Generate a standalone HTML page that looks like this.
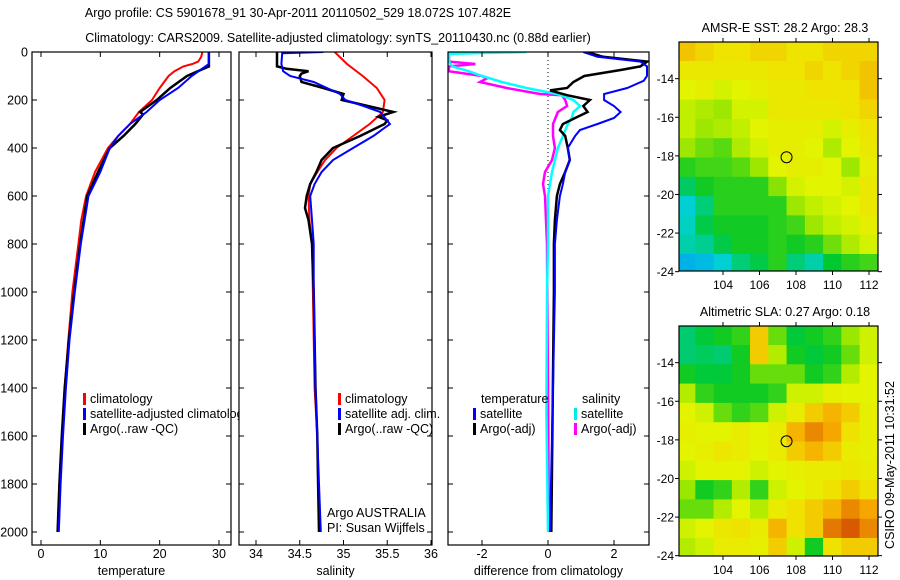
<!DOCTYPE html>
<html><head><meta charset="utf-8">
<style>
html,body{margin:0;padding:0;background:#fff;}
svg{display:block;font-family:"Liberation Sans",sans-serif;}
text{font-size:12.5px;fill:#000;}
</style></head>
<body>
<svg id="fig" width="900" height="580" viewBox="0 0 900 580" xmlns="http://www.w3.org/2000/svg">
<rect width="900" height="580" fill="#fff"/>
<text x="298" y="17" text-anchor="middle">Argo profile: CS 5901678_91 30-Apr-2011 20110502_529 18.072S 107.482E</text>
<text x="338" y="42" text-anchor="middle">Climatology: CARS2009. Satellite-adjusted climatology: synTS_20110430.nc (0.88d earlier)</text>
<g id="plots"></g>
<text x="785" y="32" text-anchor="middle" font-size="12">AMSR-E SST: 28.2 Argo: 28.3</text>
<text x="785" y="316" text-anchor="middle" font-size="12">Altimetric SLA: 0.27 Argo: 0.18</text>
<text transform="translate(894,465) rotate(-90)" text-anchor="middle">CSIRO 09-May-2011 10:31:52</text>
</svg>
<script>
// ---------- data ----------
const tempClimDepth=[0,20,40,50,60,80,100,150,200,250,300,350,400,450,500,600,700,800,900,1000,1200,1400,1600,1800,2000];
const tempClim=[27.2,27.0,26.5,25.5,24,22.5,21.5,20,18.7,16.5,15,13,11.3,10.2,9.1,7.6,6.8,6.3,5.8,5.3,4.6,4.0,3.5,3.1,2.8];
const tempSatDepth=[0,50,100,150,200,250,300,350,400,500,600,800,1000,1200,1400,1600,1800,2000];
const tempSat=[28.3,28.3,25.4,23.1,20,17.8,15,13,11.6,10,8,6.7,5.7,4.8,4.2,3.7,3.3,3.0];
const tempArgoDepth=[0,60,100,150,200,250,260,300,350,400,500,600,800,1000,1200,1400,1600,1800,2000];
const tempArgo=[28.3,28.3,24.6,21.8,19.5,16.7,17.2,15.9,13.9,11.6,9.6,7.8,6.6,5.6,4.7,4.0,3.5,3.1,2.8];

const salClimDepth=[0,50,100,150,200,250,300,350,400,450,500,550,600,700,800,1000,1400,1600,1800,2000];
const salClim=[34.90,35.04,35.22,35.38,35.47,35.45,35.30,35.11,34.92,34.79,34.70,34.62,34.60,34.61,34.64,34.65,34.67,34.70,34.71,34.73];
const salSatDepth=[0,5,50,80,100,125,150,175,200,225,250,300,350,400,450,500,550,600,700,800,1000,1400,1600,1800,2000];
const salSat=[34.77,34.30,34.29,34.31,34.39,34.66,34.81,34.96,35.02,35.23,35.42,35.53,35.34,35.11,34.88,34.75,34.67,34.62,34.64,34.66,34.66,34.68,34.70,34.72,34.74];
const salArgoDepth=[0,60,70,80,90,100,125,150,175,200,210,250,270,285,300,350,400,450,500,550,600,650,700,800,1000,1400,1600,1800,2000];
const salArgo=[34.24,34.24,34.35,34.60,34.52,34.50,34.52,34.77,35.00,34.98,35.10,35.57,35.40,35.50,35.47,35.19,34.88,34.75,34.69,34.62,34.58,34.56,34.60,34.64,34.66,34.68,34.70,34.71,34.72];

const dTempSatDepth=[0,20,40,60,80,100,120,150,175,200,225,250,275,300,325,350,400,450,500,550,600,700,800,1000,1400,2000];
const dTempSat=[1.07,1.5,2.8,3.0,3.0,3.0,2.9,2.4,1.7,1.7,2.0,2.2,2.0,1.5,0.97,0.82,0.6,0.66,0.52,0.45,0.36,0.27,0.21,0.21,0.15,0.06];
const dTempArgoDepth=[0,20,40,60,75,100,125,150,160,180,200,225,250,275,300,325,350,400,450,500,550,600,700,800,1000,2000];
const dTempArgo=[1.18,1.67,3.0,2.8,2.2,1.1,0.77,0.58,0.06,0.58,1.27,1.07,1.2,0.82,0.45,0.36,0.52,0.6,0.66,0.52,0.36,0.27,0.21,0.18,0.18,0.1];
const dSalSatDepth=[0,8,20,40,60,80,100,125,150,175,200,225,250,275,300,350,400,500,600,800,1000,1500,2000];
const dSalSat=[-0.65,-3,-3,-3,-2.9,-2.4,-2.0,-1.4,-0.65,0.27,0.77,0.97,0.77,0.72,0.6,0.45,0.3,0.12,0,0,-0.03,-0.05,0];
const dSalArgoDepth=[0,20,40,50,60,80,100,110,125,150,175,180,200,225,250,300,350,400,450,500,550,600,700,800,1000,2000];
const dSalArgo=[-3,-3,-3,-2.2,-3,-3,-2.0,-1.85,-2.06,-1.25,-0.24,0.42,0.52,0.58,0.3,0.15,0.15,0.21,0.12,-0.09,-0.15,-0.09,-0.06,-0.03,-0.02,0.03];

const mapLons=[102,103,104,105,106,107,108,109,110,111,112];
const mapLats=[-12.6,-13.6,-14.6,-15.6,-16.6,-17.6,-18.6,-19.6,-20.6,-21.6,-22.6,-23.6];
const sstGrid=[
[28.9,28.8,28.7,28.7,28.8,28.8,28.7,28.7,28.8,28.8,28.8],
[28.6,28.6,28.6,28.6,28.6,28.7,28.7,28.8,28.7,28.8,28.9],
[28.4,28.5,28.3,28.4,28.5,28.6,28.6,28.7,28.7,28.7,28.9],
[28.2,28.1,28.0,28.3,28.3,28.6,28.6,28.6,28.6,28.7,28.8],
[28.2,28.0,28.1,28.2,28.4,28.5,28.5,28.5,28.3,28.5,28.7],
[28.0,27.8,27.7,28.1,28.3,28.5,28.5,28.4,28.1,28.4,28.6],
[27.5,27.6,27.6,27.7,28.0,28.4,28.5,28.5,28.4,28.0,28.5],
[27.1,27.4,27.5,27.5,27.5,27.9,28.3,28.4,28.4,28.3,28.6],
[26.6,27.0,27.5,27.5,27.5,27.5,28.0,28.2,28.3,28.4,28.6],
[26.7,27.2,27.4,27.4,27.4,27.5,27.6,28.0,28.2,28.3,28.5],
[26.8,26.9,27.2,27.4,27.4,27.5,27.4,27.5,27.8,28.1,28.3],
[26.3,26.4,26.6,27.0,27.2,27.5,27.0,26.8,27.3,27.5,27.6]];
const slaGrid=[
[0.05,0.08,0.10,0.12,0.30,0.15,0.08,0.10,0.12,0.18,0.22],
[0.05,0.06,0.05,0.10,0.30,0.20,0.10,0.08,0.10,0.15,0.22],
[0.10,0.08,0.08,0.10,0.15,0.15,0.15,0.10,0.12,0.20,0.24],
[0.20,0.12,0.10,0.10,0.10,0.12,0.22,0.22,0.25,0.24,0.24],
[0.24,0.22,0.15,0.12,0.14,0.22,0.26,0.30,0.32,0.30,0.25],
[0.25,0.24,0.24,0.26,0.24,0.26,0.32,0.35,0.33,0.28,0.25],
[0.24,0.25,0.27,0.26,0.24,0.26,0.30,0.32,0.30,0.26,0.25],
[0.22,0.24,0.24,0.24,0.22,0.24,0.25,0.26,0.26,0.27,0.26],
[0.18,0.10,0.12,0.20,0.12,0.22,0.24,0.26,0.28,0.30,0.28],
[0.15,0.15,0.20,0.24,0.20,0.26,0.28,0.30,0.32,0.35,0.33],
[0.22,0.24,0.27,0.28,0.26,0.32,0.28,0.30,0.36,0.40,0.35],
[0.20,0.22,0.26,0.26,0.25,0.30,0.22,0.10,0.28,0.30,0.30]];
const argoLon=107.482, argoLat=-18.072;
const depthTicks=[0,200,400,600,800,1000,1200,1400,1600,1800,2000];
const tempTicks=[0,10,20,30];
const salTicks=[34,34.5,35,35.5,36];
const diffTicks=[-2,0,2];
const lonTicks=[104,106,108,110,112];
const latTicks=[-14,-16,-18,-20,-22,-24];

// ---------- drawing ----------
const NS="http://www.w3.org/2000/svg";
const root=document.getElementById('plots');
function mk(tag,attrs,parent){const e=document.createElementNS(NS,tag);for(const k in attrs)e.setAttribute(k,attrs[k]);(parent||root).appendChild(e);return e;}
const TOP=52,BOT=545;
const yDepth=d=>TOP+d*0.24;
function lin(d0,d1,p0,p1){return v=>p0+(v-d0)*(p1-p0)/(d1-d0);}

function panel(name,x0,x1,xs,xticks,xlabel,showDepthLabels){
  const g=mk('g',{});
  
  
  const r=mk('rect',{x:x0,y:TOP,width:x1-x0,height:BOT-TOP,fill:'#fff',stroke:'none'},g);
  
  
  const clip=mk('clipPath',{id:'clip-'+name},g);
  mk('rect',{x:x0,y:TOP,width:x1-x0,height:BOT-TOP},clip);
  const lines=mk('g',{'clip-path':'url(#clip-'+name+')'},g);
  const ax=mk('g',{},g);
  
  
  depthTicks.forEach(d=>{const y=yDepth(d);
    mk('line',{x1:x0,x2:x0+5,y1:y,y2:y,stroke:'#000'},ax);
    mk('line',{x1:x1-5,x2:x1,y1:y,y2:y,stroke:'#000'},ax);
    if(showDepthLabels){const t=mk('text',{x:x0-4,y:y+4.5,'text-anchor':'end'},ax);t.textContent=d;
      
      }
  });
  xticks.forEach(v=>{const x=xs(v);
    mk('line',{x1:x,x2:x,y1:TOP,y2:TOP+5,stroke:'#000'},ax);
    mk('line',{x1:x,x2:x,y1:BOT-5,y2:BOT,stroke:'#000'},ax);
    const t=mk('text',{x:x,y:BOT+13,'text-anchor':'middle'},ax);t.textContent=v;
    
    
  });
  const xl=mk('text',{x:(x0+x1)/2,y:BOT+30,'text-anchor':'middle'},ax);xl.textContent=xlabel;
  
  
  return {g,lines,ax,x0,x1};
}
function series(p,xs,depths,vals,color,w,name){
  const pts=depths.map((d,i)=>xs(vals[i]).toFixed(1)+','+yDepth(d).toFixed(1)).join(' ');
  const l=mk('polyline',{points:pts,fill:'none',stroke:color,'stroke-width':w,'stroke-linejoin':'miter'},p.lines);
  
  
}
function frame(p){mk('rect',{x:p.x0,y:TOP,width:p.x1-p.x0,height:BOT-TOP,fill:'none',stroke:'#000','stroke-width':1.2},p.ax);}
function legend(p,x,y,items){
  items.forEach((it,i)=>{
    const yy=y+i*15;
    const m=mk('rect',{x:x,y:yy-9,width:3,height:12,fill:it[1]},p.g);
    
    
    const t=mk('text',{x:x+7,y:yy+1},p.g);t.textContent=it[0];
    
    
  });
}

// Panel 1: temperature
const xT=lin(0,30,41,219);
const p1=panel('temperature',32,231,xT,tempTicks,'temperature',true);
series(p1,xT,tempClimDepth,tempClim,'#ff0000',2,'temperature-climatology-line');
series(p1,xT,tempArgoDepth,tempArgo,'#000000',2.5,'temperature-argo-line');
series(p1,xT,tempSatDepth,tempSat,'#0000ff',2,'temperature-satellite-line');
frame(p1);
legend(p1,83,402,[['climatology','#ff0000'],['satellite-adjusted climatology','#0000ff'],['Argo(..raw -QC)','#000000']]);

// Panel 2: salinity
const xS=lin(34,36,256,431);
const p2=panel('salinity',239,432,xS,salTicks,'salinity',false);
series(p2,xS,salClimDepth,salClim,'#ff0000',2,'salinity-climatology-line');
series(p2,xS,salArgoDepth,salArgo,'#000000',2.5,'salinity-argo-line');
series(p2,xS,salSatDepth,salSat,'#0000ff',2,'salinity-satellite-line');
frame(p2);
legend(p2,338,402,[['climatology','#ff0000'],['satellite adj. clim.','#0000ff'],['Argo(..raw -QC)','#000000']]);
{const t=mk('text',{x:327,y:517},p2.g);t.textContent='Argo AUSTRALIA';


const t2=mk('text',{x:327,y:532},p2.g);t2.textContent='PI: Susan Wijffels';

}

// Panel 3: differences
const xD=lin(-2,2,482,614);
const p3=panel('difference',448,649,xD,diffTicks,'difference from climatology',false);
{const z=mk('line',{x1:xD(0),x2:xD(0),y1:TOP,y2:yDepth(2000),stroke:'#000','stroke-dasharray':'1,3'},p3.lines);

}
series(p3,xD,dSalArgoDepth,dSalArgo,'#ff00ff',2.5,'salinity-argo-difference-line');
series(p3,xD,dSalSatDepth,dSalSat,'#00ffff',2.5,'salinity-satellite-difference-line');
series(p3,xD,dTempArgoDepth,dTempArgo,'#000000',2.5,'temperature-argo-difference-line');
series(p3,xD,dTempSatDepth,dTempSat,'#0000ff',2,'temperature-satellite-difference-line');
frame(p3);
{const t=mk('text',{x:481,y:403},p3.g);t.textContent='temperature';


const t2=mk('text',{x:582,y:403},p3.g);t2.textContent='salinity';

}
legend(p3,473,417,[['satellite','#0000ff'],['Argo(-adj)','#000000']]);
legend(p3,574,417,[['satellite','#00e8f0'],['Argo(-adj)','#ff00ff']]);

// Maps
function cmap(t){
  const stops=[[0,[0,140,255]],[0.2,[0,210,210]],[0.4,[0,200,40]],[0.58,[150,230,0]],[0.7,[225,245,0]],[0.8,[240,225,0]],[0.9,[245,165,0]],[1,[215,90,0]]];
  t=Math.max(0,Math.min(1,t));
  for(let i=1;i<stops.length;i++){if(t<=stops[i][0]){const a=stops[i-1],b=stops[i],f=(t-a[0])/(b[0]-a[0]);
    return 'rgb('+a[1].map((c,k)=>Math.round(c+(b[1][k]-c)*f)).join(',')+')';}}
  return 'rgb(215,90,0)';
}
function map(name,top,bottom,grid,vmin,vmax){
  const X0=679,X1=878;
  const xs=lin(104,112,723,869);
  const latTop=-12.1;
  const ppd=19.3;
  const ys=la=>top+(latTop-la)*ppd;
  const g=mk('g',{});
  
  
  const clip=mk('clipPath',{id:'clip-'+name},g);
  mk('rect',{x:X0,y:top,width:X1-X0,height:bottom-top},clip);
  const cells=mk('g',{'clip-path':'url(#clip-'+name+')'},g);
  const cw=xs(1)-xs(0);
  mapLats.forEach((la,i)=>mapLons.forEach((lo,j)=>{
    const c=mk('rect',{x:xs(lo-0.5)-0.3,y:ys(la+0.5)-0.3,width:cw+0.6,height:ppd+0.6,fill:cmap((grid[i][j]-vmin)/(vmax-vmin))},cells);
    
    
  }));
  const m=mk('circle',{cx:xs(argoLon),cy:ys(argoLat),r:5.5,fill:'none',stroke:'#000','stroke-width':1},g);
  
  
  mk('rect',{x:X0,y:top,width:X1-X0,height:bottom-top,fill:'none',stroke:'#000','stroke-width':1.2},g);
  lonTicks.forEach(v=>{const x=xs(v);
    mk('line',{x1:x,x2:x,y1:top-4,y2:top,stroke:'#000'},g);
    mk('line',{x1:x,x2:x,y1:bottom,y2:bottom+4,stroke:'#000'},g);
    const t=mk('text',{x:x,y:bottom+18,'text-anchor':'middle',style:'font-size:12px'},g);t.textContent=v;
    
    });
  latTicks.forEach(v=>{const y=ys(v);
    mk('line',{x1:X0-4,x2:X0,y1:y,y2:y,stroke:'#000'},g);
    mk('line',{x1:X1,x2:X1+4,y1:y,y2:y,stroke:'#000'},g);
    const t=mk('text',{x:X0-5,y:y+4.5,'text-anchor':'end',style:'font-size:12px'},g);t.textContent=v;
    
    });
}
map('sst',42,271,sstGrid,25.93,29.43);
map('sla',326,556,slaGrid,-0.103,0.38);
</script>
</body></html>
